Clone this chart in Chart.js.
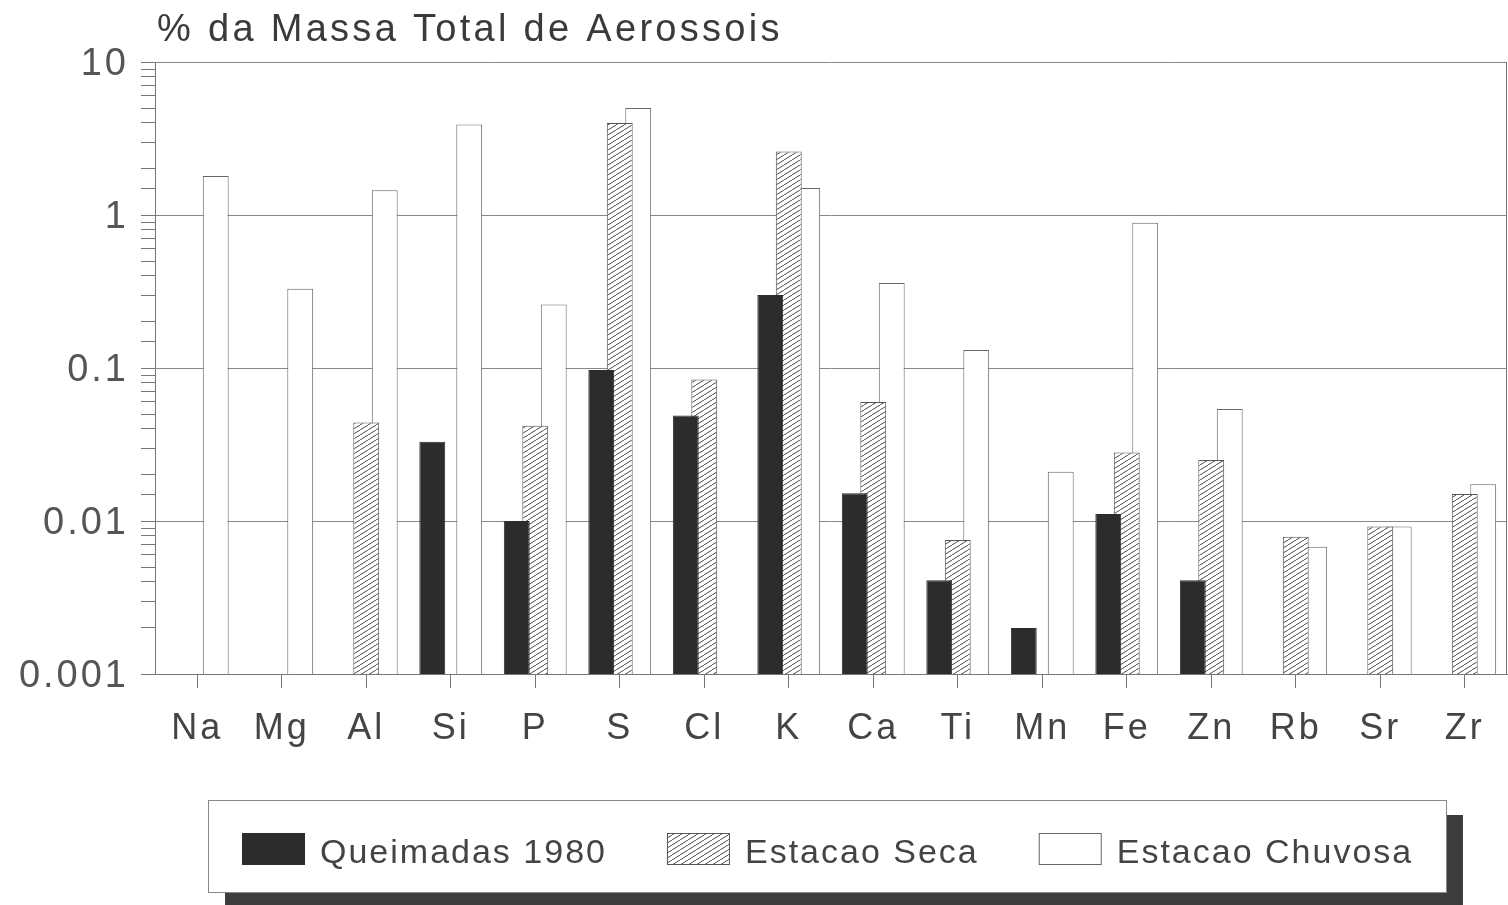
<!DOCTYPE html>
<html>
<head>
<meta charset="utf-8">
<script src="https://cdn.jsdelivr.net/npm/chart.js@4.4.0/dist/chart.umd.min.js"></script>
<style>
  html, body { margin: 0; padding: 0; background: #fff; overflow: hidden; }
  #wrap { position: relative; width: 1508px; height: 905px; }
</style>
</head>
<body>
<div id="wrap"><canvas id="chart"></canvas></div>
<script>
// element categories along the x axis
const elements = ['Na', 'Mg', 'Al', 'Si', 'P', 'S', 'Cl', 'K', 'Ca', 'Ti', 'Mn', 'Fe', 'Zn', 'Rb', 'Sr', 'Zr'];

// % of total aerosol mass (null = no bar)
const queimadas = [null, null, null, 0.033, 0.010, 0.097, 0.049, 0.30, 0.0152, 0.0041, 0.0020, 0.0111, 0.0041, null, null, null];
const seca      = [null, null, 0.044, null, 0.042, 4.0, 0.084, 2.6, 0.060, 0.0075, null, 0.028, 0.025, 0.0079, 0.0092, 0.015];
const chuvosa   = [1.8, 0.33, 1.45, 3.9, 0.26, 5.0, null, 1.5, 0.36, 0.131, 0.021, 0.89, 0.054, 0.0068, 0.0092, 0.0174];

const seriesNames = ['Queimadas 1980', 'Estacao Seca', 'Estacao Chuvosa'];
const yTickLabels = ['0.001', '0.01', '0.1', '1', '10'];
const axisTitle = '% da Massa Total de Aerossois';

const FONT = '"Liberation Sans", Arial, Helvetica, sans-serif';

// diagonal hatch for the dry season bars
function makeHatch() {
    const w = 8, h = 5;
    const c = document.createElement('canvas');
    c.width = w; c.height = h;
    const g = c.getContext('2d');
    g.fillStyle = '#fff';
    g.fillRect(0, 0, w, h);
    g.strokeStyle = '#4a4a4a';
    g.lineWidth = 1;
    g.beginPath();
    g.moveTo(0, h); g.lineTo(w, 0);
    g.moveTo(-w, h); g.lineTo(0, 0);
    g.moveTo(w, h); g.lineTo(2 * w, 0);
    g.stroke();
    return g.createPattern(c, 'repeat');
}
const hatch = makeHatch();

const isDecade = (v) => Math.abs(Math.log10(v) - Math.round(Math.log10(v))) < 1e-6;

// title, legend box with shadow, right frame line
const decor = {
    id: 'decor',
    beforeDraw(chart) {
        const ctx = chart.ctx;
        ctx.save();
        ctx.fillStyle = '#fff';
        ctx.fillRect(0, 0, chart.width, chart.height);
        ctx.restore();
        ctx.letterSpacing = '3px';
    },
    afterDraw(chart) {
        const ctx = chart.ctx;
        const area = chart.chartArea;
        ctx.save();

        // right frame
        ctx.strokeStyle = '#777';
        ctx.lineWidth = 1;
        ctx.beginPath();
        ctx.moveTo(area.right - 0.5, area.top);
        ctx.lineTo(area.right - 0.5, area.bottom);
        ctx.stroke();

        // title above the plot
        ctx.letterSpacing = '3.3px';
        ctx.font = '38px ' + FONT;
        ctx.fillStyle = '#3a3a3a';
        ctx.textBaseline = 'middle';
        ctx.textAlign = 'left';
        ctx.fillText(axisTitle, 157, 31);

        // legend box + shadow
        ctx.fillStyle = '#3c3c3c';
        ctx.fillRect(225, 815, 1238, 95);
        ctx.fillStyle = '#fff';
        ctx.fillRect(208, 800, 1239, 93);
        ctx.strokeStyle = '#888';
        ctx.strokeRect(208.5, 800.5, 1238, 92);

        // legend entries
        ctx.letterSpacing = '2px';
        ctx.font = '34px ' + FONT;
        let x = 242;
        chart.data.datasets.forEach((ds) => {
            ctx.fillStyle = ds.backgroundColor;
            ctx.fillRect(x, 833, 63, 32);
            ctx.strokeStyle = ds.borderColor;
            ctx.lineWidth = 1;
            ctx.strokeRect(x + 0.5, 833.5, 62, 31);
            ctx.fillStyle = '#444';
            ctx.fillText(ds.label, x + 78, 854);
            x += 78 + ctx.measureText(ds.label).width + 60;
        });

        ctx.restore();
    }
};

const ctx = document.getElementById('chart').getContext('2d');
new Chart(ctx, {
    type: 'bar',
    data: {
        labels: elements,
        datasets: [
            {
                label: seriesNames[0],
                data: queimadas,
                backgroundColor: '#2c2c2c',
                borderColor: '#2c2c2c',
                borderWidth: 1,
            },
            {
                label: seriesNames[1],
                data: seca,
                backgroundColor: hatch,
                borderColor: '#555',
                borderWidth: 1,
            },
            {
                label: seriesNames[2],
                data: chuvosa,
                backgroundColor: '#fff',
                borderColor: '#666',
                borderWidth: 1,
            },
        ],
    },
    options: {
        responsive: true,
        maintainAspectRatio: false,
        animation: false,
        datasets: {
            bar: {
                categoryPercentage: 0.656,
                barPercentage: 1.4,
                borderSkipped: 'start',
            },
        },
        layout: {
            padding: { top: 62, right: 1, left: 0, bottom: 0 },
        },
        plugins: {
            legend: { display: false },
            title: { display: false },
            tooltip: { enabled: false },
        },
        scales: {
            x: {
                grid: {
                    display: true,
                    drawOnChartArea: false,
                    drawTicks: true,
                    tickLength: 14,
                    offset: false,
                    color: '#777',
                },
                border: { display: true, color: '#777' },
                ticks: {
                    color: '#444',
                    padding: 19,
                    font: { size: 36, family: FONT },
                    autoSkip: false,
                    maxRotation: 0,
                },
                afterFit: (scale) => { scale.height = 231; },
            },
            y: {
                type: 'logarithmic',
                min: 0.001,
                max: 10,
                grid: {
                    color: (c) => (c.tick && isDecade(c.tick.value) ? '#888' : 'rgba(0,0,0,0)'),
                    tickColor: '#777',
                    tickLength: 14,
                    drawTicks: true,
                },
                border: { display: true, color: '#777' },
                ticks: {
                    autoSkip: false,
                    color: '#555',
                    padding: 12,
                    labelOffset: 3,
                    font: { size: 38, family: FONT },
                    callback: (v) => {
                        if (!isDecade(v)) return '';
                        const i = Math.round(Math.log10(v)) + 3;
                        return yTickLabels[i] || '';
                    },
                },
                afterFit: (scale) => { scale.width = 155; },
            },
        },
    },
    plugins: [decor],
});
</script>
</body>
</html>
